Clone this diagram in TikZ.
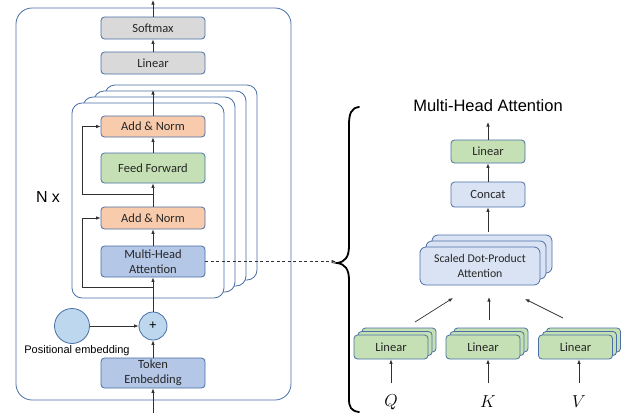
\documentclass[tikz,border=0pt]{standalone}
\usepackage{fontspec}
\newfontfamily\carl{Carlito}
\newfontfamily\arl{Liberation Sans}
\usetikzlibrary{arrows.meta,calc}
\definecolor{bordc}{HTML}{4A6FA5}
\definecolor{grayf}{HTML}{D9D9D9}
\definecolor{orangef}{HTML}{F8CBAD}
\definecolor{greenf}{HTML}{C5E0B4}
\definecolor{bluef}{HTML}{B4C7E7}
\definecolor{circf}{HTML}{BDD7EE}
\definecolor{lbluef}{HTML}{DAE3F3}
\definecolor{linec}{HTML}{303030}
\tikzset{
  blk/.style={draw=bordc, line width=0.8pt, rounded corners=3.5pt, inner sep=0pt, align=center,
     font=\carl\fontsize{12.5}{15}\selectfont, text=black!85},
  stackbox/.style={draw=bordc, line width=0.8pt, rounded corners=10pt, fill=white, inner sep=0pt,
     minimum width=152pt, minimum height=195pt},
  arr/.style={draw=linec, line width=0.7pt, -{Latex[length=4.5pt,width=3.5pt]}},
  circ/.style={circle, draw=bordc, line width=0.8pt, fill=circf, inner sep=0pt},
  qkv/.style={inner sep=0pt, font=\fontsize{16}{16}\selectfont},
}
\begin{document}
\begin{tikzpicture}[x=1pt,y=-1pt]
\useasboundingbox (0,0) rectangle (622,413);
% outer box
\node[draw=bordc, line width=0.8pt, rounded corners=16pt, minimum width=275pt, minimum height=392pt, inner sep=0pt] (outer) at (153.5,204) {};
% encoder stack
\node[stackbox] (enc3) at (181,182.5) {};
\node[stackbox] (enc2) at (170,188.5) {};
\node[stackbox] (enc1) at (159,194.5) {};
\node[stackbox] (enc0) at (148,200.5) {};
% left column boxes
\node[blk, fill=grayf, minimum width=104pt, minimum height=22pt] (soft) at (153,28) {Softmax};
\node[blk, fill=grayf, minimum width=104pt, minimum height=22pt] (lin) at (153,63) {Linear};
\node[blk, fill=orangef, minimum width=104pt, minimum height=21pt] (an1) at (153,126.5) {Add \& Norm};
\node[blk, fill=greenf, minimum width=104pt, minimum height=30pt] (ff) at (153,168) {Feed Forward};
\node[blk, fill=orangef, minimum width=104pt, minimum height=22pt] (an2) at (153,218) {Add \& Norm};
\node[blk, fill=bluef, minimum width=104pt, minimum height=31pt] (mha) at (153,261.5) {Multi-Head\\Attention};
\node[blk, fill=bluef, minimum width=104pt, minimum height=30pt] (tok) at (153,373) {Token\\Embedding};
\node[circ, minimum size=28pt, font=\arl\fontsize{13}{13}\selectfont] (plus) at (153,326) {+};
\node[circ, minimum size=35pt] (pos) at (72,326) {};
\node[font=\arl\fontsize{11}{12}\selectfont, inner sep=0pt] (poslab) at (77,351) {Positional embedding};
\node[font=\arl\fontsize{16}{16}\selectfont, inner sep=0pt] (nx) at (48,197) {N x};
% coordinates
\coordinate (inbot) at (153,413);
\coordinate (outtop) at (153,0);
\coordinate (stacktop) at (153,90);
\coordinate (r1) at (153,194);
\coordinate (r2) at (153,287);
\coordinate (dashend) at (336,261.5);
% connectors left
\draw[arr] (inbot) -- (tok.south);
\draw[arr] (tok.north) -- (plus.south);
\draw[arr] (pos.east) -- (plus.west);
\draw[arr] (plus.north) -- (mha.south);
\draw[arr] (mha.north) -- (an2.south);
\draw[arr] (an2.north) -- (ff.south);
\draw[arr] (ff.north) -- (an1.south);
\draw[arr] (an1.north) -- (stacktop);
\draw[arr] (lin.north) -- (soft.south);
\draw[arr] (soft.north) -- (outtop);
\draw[arr] (r1) -| ([xshift=-18pt]an1.west) -- (an1.west);
\draw[arr] (r2) -| ([xshift=-18pt]an2.west) -- (an2.west);
\draw[arr, dash pattern=on 3pt off 2.5pt] (mha.east) -- (dashend);
% brace
\draw[line width=1.8pt, line cap=round] (359,107) .. controls (351,108) and (349,114) .. (349,125) -- (349,246)
  .. controls (349,257) and (345,262) .. (337,263) .. controls (345,264) and (349,269) .. (349,280)
  -- (349,399) .. controls (349,407) and (351,411) .. (359,412);
% right side
\node[font=\arl\fontsize{16.5}{17}\selectfont, inner sep=0pt] (title) at (488,106) {Multi-Head Attention};
\node[blk, fill=greenf, minimum width=74pt, minimum height=23pt] (lin2) at (488,151.5) {Linear};
\node[blk, fill=lbluef, minimum width=74pt, minimum height=25pt] (concat) at (488,194.5) {Concat};
\node[blk, fill=lbluef, minimum width=120pt, minimum height=38pt, rounded corners=6pt] (sd2) at (492,254) {};
\node[blk, fill=lbluef, minimum width=120pt, minimum height=38pt, rounded corners=6pt] (sd1) at (486,260) {};
\node[blk, fill=lbluef, minimum width=120pt, minimum height=38pt, rounded corners=6pt, font=\carl\fontsize{11.8}{15.5}\selectfont] (sd0) at (480,266) {Scaled Dot-Product\\Attention};
\coordinate (mhtop) at (488,122);
\coordinate (sdtop) at (488,232);
\draw[arr] (lin2.north) -- (mhtop);
\draw[arr] (concat.north) -- (lin2.south);
\draw[arr] (sdtop) -- (concat.south);
% linear stacks
\foreach \nm/\cx in {q/391,k/483,v/575.5}{
  \node[blk, fill=greenf, minimum width=74pt, minimum height=24pt] (\nm2) at (\cx+8,340) {};
  \node[blk, fill=greenf, minimum width=74pt, minimum height=24pt] (\nm1) at (\cx+4,343.5) {};
  \node[blk, fill=greenf, minimum width=74pt, minimum height=24pt] (\nm0) at (\cx,347) {Linear};
}
\node[qkv] (ql) at (391,402) {$Q$};
\node[qkv] (kl) at (488,402) {$K$};
\node[qkv] (vl) at (579,402) {$V$};
\coordinate (qa) at (391,383);
\coordinate (ka) at (488,383);
\coordinate (va) at (579,383);
\draw[arr] (qa) -- (qa |- q0.south);
\draw[arr] (ka) -- (ka |- k0.south);
\draw[arr] (va) -- (va |- v0.south);
\coordinate (qs) at (415,322); \coordinate (qe) at (453,298);
\coordinate (ks) at (489,320); \coordinate (ke) at (489,297);
\coordinate (vs) at (563,318); \coordinate (ve) at (525,299);
\draw[arr] (qs) -- (qe);
\draw[arr] (ks) -- (ke);
\draw[arr] (vs) -- (ve);
\end{tikzpicture}
\end{document}
